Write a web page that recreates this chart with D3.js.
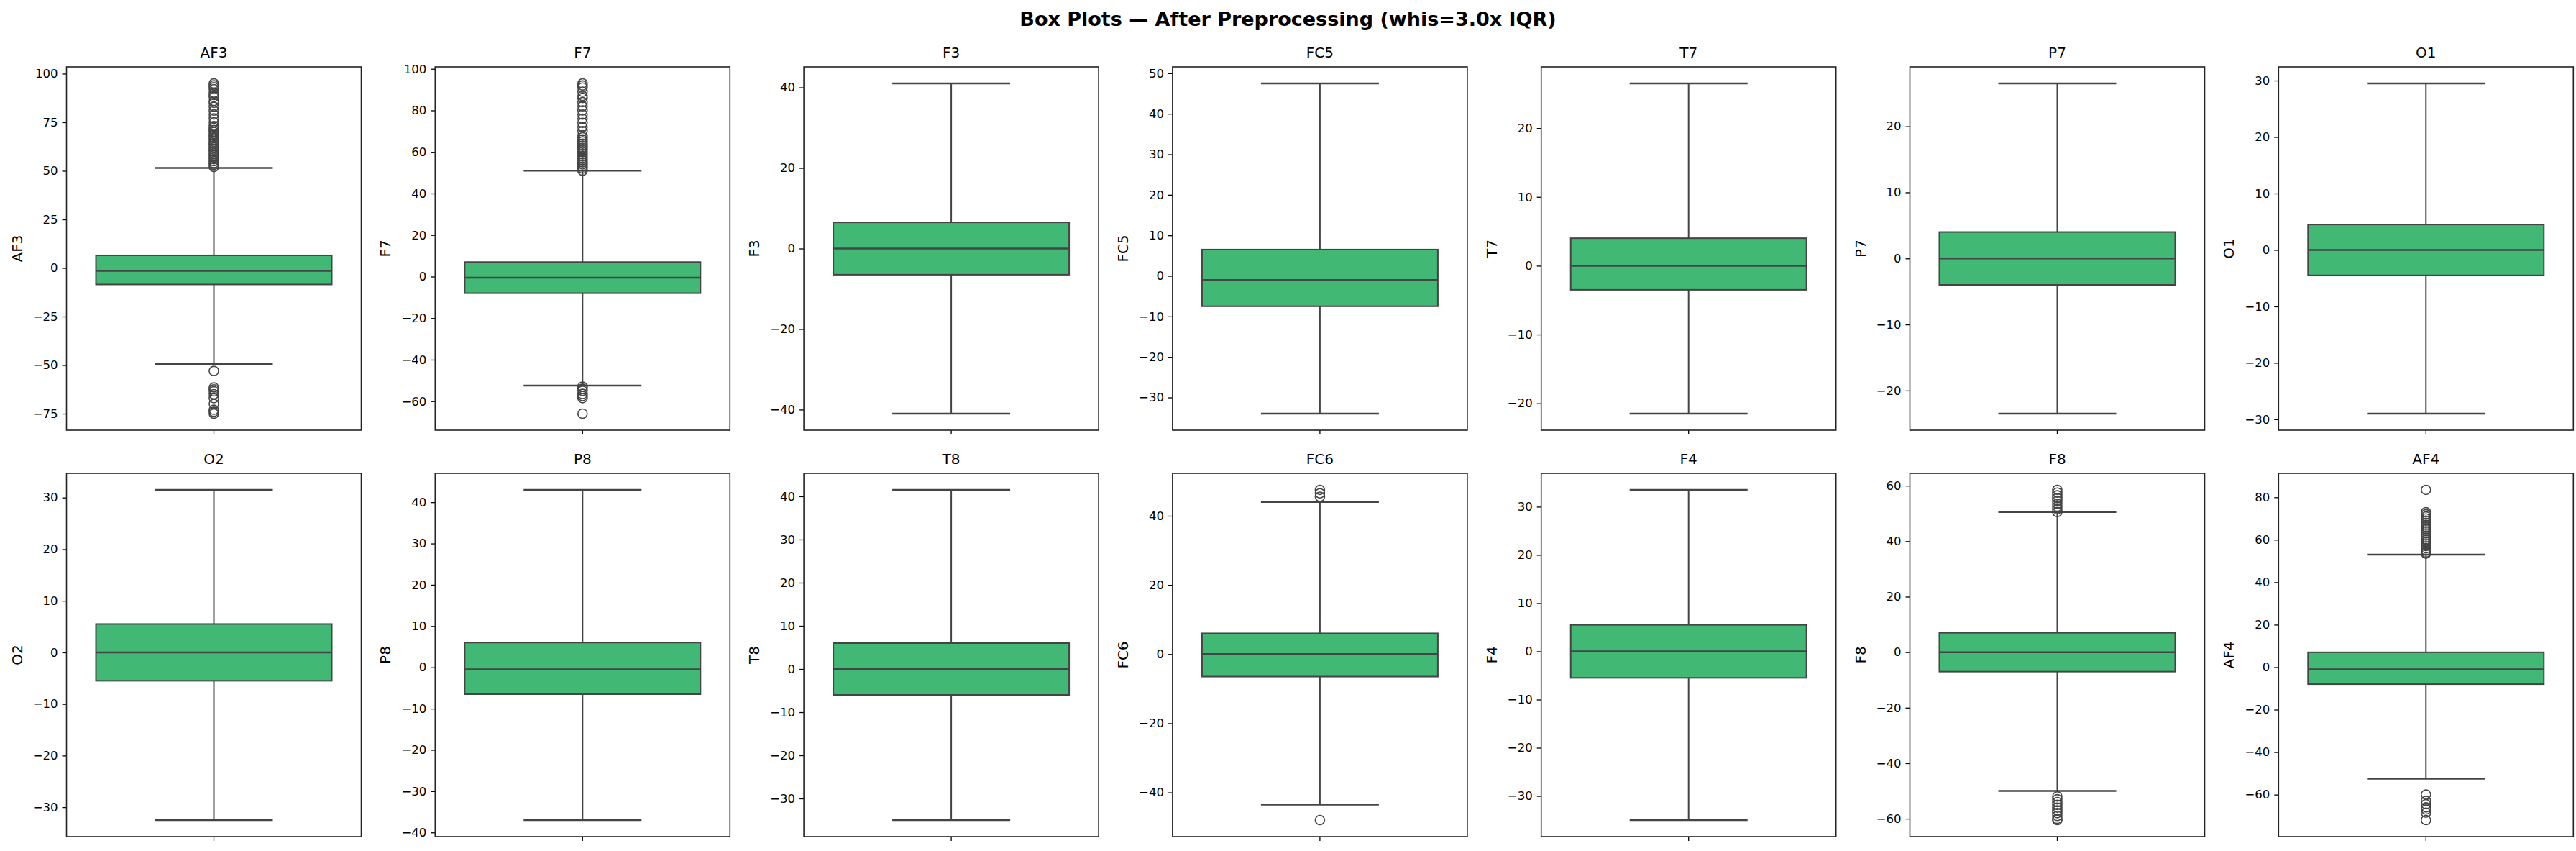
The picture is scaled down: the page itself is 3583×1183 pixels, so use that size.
<!DOCTYPE html>
<html>
<head>
<meta charset="utf-8">
<script src="https://cdn.jsdelivr.net/npm/d3@7"></script>
<style>
  body { margin: 0; background: white; }
  text { font-family: "DejaVu Sans", sans-serif; }
</style>
</head>
<body>
<div id="vis"></div>
<script>
const outerWidth = 3583;
const outerHeight = 1183;

// channels, row by row
const channels = ["AF3", "F7", "F3", "FC5", "T7", "P7", "O1",
                  "O2", "P8", "T8", "FC6", "F4", "F8", "AF4"];
const q1 =       [-8.5, -8, -6.5, -7.5, -3.5, -4, -4.5, -5.5, -6.5, -6, -6.5, -5.5, -7, -8];
const medians =  [-1.5, -0.5, 0, -1, 0, 0, 0, 0, -0.5, 0, 0, 0, 0, -1];
const q3 =       [6.5, 7, 6.5, 6.5, 4, 4, 4.5, 5.5, 6, 6, 6, 5.5, 7, 7];
const whiskLo =  [-49.5, -52.5, -41, -34, -21.5, -23.5, -29, -32.5, -37, -35, -43.5, -35, -50, -52.5];
const whiskHi =  [51.5, 51, 41, 47.5, 26.5, 26.5, 29.5, 31.5, 43, 41.5, 44, 33.5, 50.5, 53];
const tickSteps = [25, 20, 20, 10, 10, 10, 10, 10, 10, 10, 20, 10, 20, 20];
const outliers = [
  [52, 53, 54, 55, 56, 57, 58, 59, 60, 61, 62, 63, 64, 65, 66, 67, 68, 69, 70, 71, 72, 73,
   75, 77, 79, 81, 83, 85, 86, 88, 89, 90, 92, 93, 94, 95,
   -53, -61.5, -62.5, -63.5, -65, -67, -70, -73, -74, -75],
  [51, 52, 53, 54, 55, 56, 57, 58, 59, 60, 61, 62, 63, 64, 65, 66, 67, 68, 70, 72,
   74, 76, 78, 80, 82, 84, 86, 87, 89, 91, 92, 93,
   -53, -54, -55, -56.5, -57.5, -58.5, -66],
  [], [], [], [], [], [], [], [],
  [45.5, 46.5, 47.5, -48],
  [],
  [50.5, 51.5, 52.5, 53.5, 54.5, 55.5, 56.5, 57.5, 58.5,
   -52, -53, -54, -55, -56, -57, -58, -59, -60, -60.5],
  [53.5, 54, 55, 56, 57, 58, 59, 60, 61, 62, 63, 64, 65, 66, 67, 68, 69, 70, 71, 72, 73, 83.5,
   -60, -63, -64.5, -66, -67, -68.5, -72]
];

const svg = d3.select("#vis").append("svg")
    .attr("width", outerWidth)
    .attr("height", outerHeight);

svg.append("text")
    .attr("x", outerWidth / 2)
    .attr("y", 36)
    .attr("text-anchor", "middle")
    .attr("font-size", 27)
    .attr("font-weight", "bold")
    .text("Box Plots \u2014 After Preprocessing (whis=3.0x IQR)");

const panelW = 410, panelH = 505, pitchX = 512.8;
const rowTops = [93, 658];
const lineColor = "#444";

channels.forEach((ch, i) => {
    const col = i % 7, row = Math.floor(i / 7);
    const g = svg.append("g")
        .attr("transform", `translate(${92.5 + col * pitchX}, ${rowTops[row]})`);

    const all = [whiskLo[i], whiskHi[i], ...outliers[i]];
    const lo = d3.min(all), hi = d3.max(all), pad = (hi - lo) * 0.05;
    const y = d3.scaleLinear().domain([lo - pad, hi + pad]).range([panelH, 0]);
    const x = d3.scaleBand().domain([ch]).range([0, panelW]);
    const cx = x(ch) + x.bandwidth() / 2;
    const boxW = x.bandwidth() * 0.8, capW = boxW / 2;

    // y axis
    const step = tickSteps[i];
    const ticks = d3.range(Math.ceil((lo - pad) / step) * step, hi + pad, step);
    const yAxis = g.append("g")
        .call(d3.axisLeft(y).tickValues(ticks).tickSize(6).tickPadding(6)
              .tickFormat(d => d < 0 ? "\u2212" + Math.abs(d) : d));
    yAxis.select(".domain").remove();
    yAxis.selectAll("text").attr("font-size", 16.5).attr("fill", "#000");
    yAxis.selectAll("line").attr("stroke", "#000").attr("stroke-width", 1.3);

    // x tick
    g.append("line")
        .attr("x1", cx).attr("x2", cx)
        .attr("y1", panelH).attr("y2", panelH + 6)
        .attr("stroke", "#000").attr("stroke-width", 1.3);

    // whisker line
    g.append("line")
        .attr("x1", cx).attr("x2", cx)
        .attr("y1", y(whiskLo[i])).attr("y2", y(whiskHi[i]))
        .attr("stroke", lineColor).attr("stroke-width", 2);
    // caps
    [whiskLo[i], whiskHi[i]].forEach(v => {
        g.append("line")
            .attr("x1", cx - capW / 2).attr("x2", cx + capW / 2)
            .attr("y1", y(v)).attr("y2", y(v))
            .attr("stroke", lineColor).attr("stroke-width", 2.5);
    });
    // box
    g.append("rect")
        .attr("x", cx - boxW / 2).attr("width", boxW)
        .attr("y", y(q3[i])).attr("height", y(q1[i]) - y(q3[i]))
        .attr("fill", "#41b873")
        .attr("stroke", lineColor).attr("stroke-width", 2);
    // median
    g.append("line")
        .attr("x1", cx - boxW / 2).attr("x2", cx + boxW / 2)
        .attr("y1", y(medians[i])).attr("y2", y(medians[i]))
        .attr("stroke", lineColor).attr("stroke-width", 2.5);
    // fliers
    g.selectAll(".flier")
        .data(outliers[i])
        .join("circle")
        .attr("class", "flier")
        .attr("cx", cx).attr("cy", d => y(d))
        .attr("r", 6.5)
        .attr("fill", "none")
        .attr("stroke", lineColor).attr("stroke-width", 1.6);

    // frame
    g.append("rect")
        .attr("width", panelW).attr("height", panelH)
        .attr("fill", "none").attr("stroke", "#222").attr("stroke-width", 1.6);

    g.append("text")
        .attr("x", panelW / 2).attr("y", -13)
        .attr("text-anchor", "middle").attr("font-size", 20)
        .text(ch);

    g.append("text")
        .attr("transform", `translate(-62, ${panelH / 2}) rotate(-90)`)
        .attr("text-anchor", "middle").attr("font-size", 20)
        .text(ch);
});
</script>
</body>
</html>
